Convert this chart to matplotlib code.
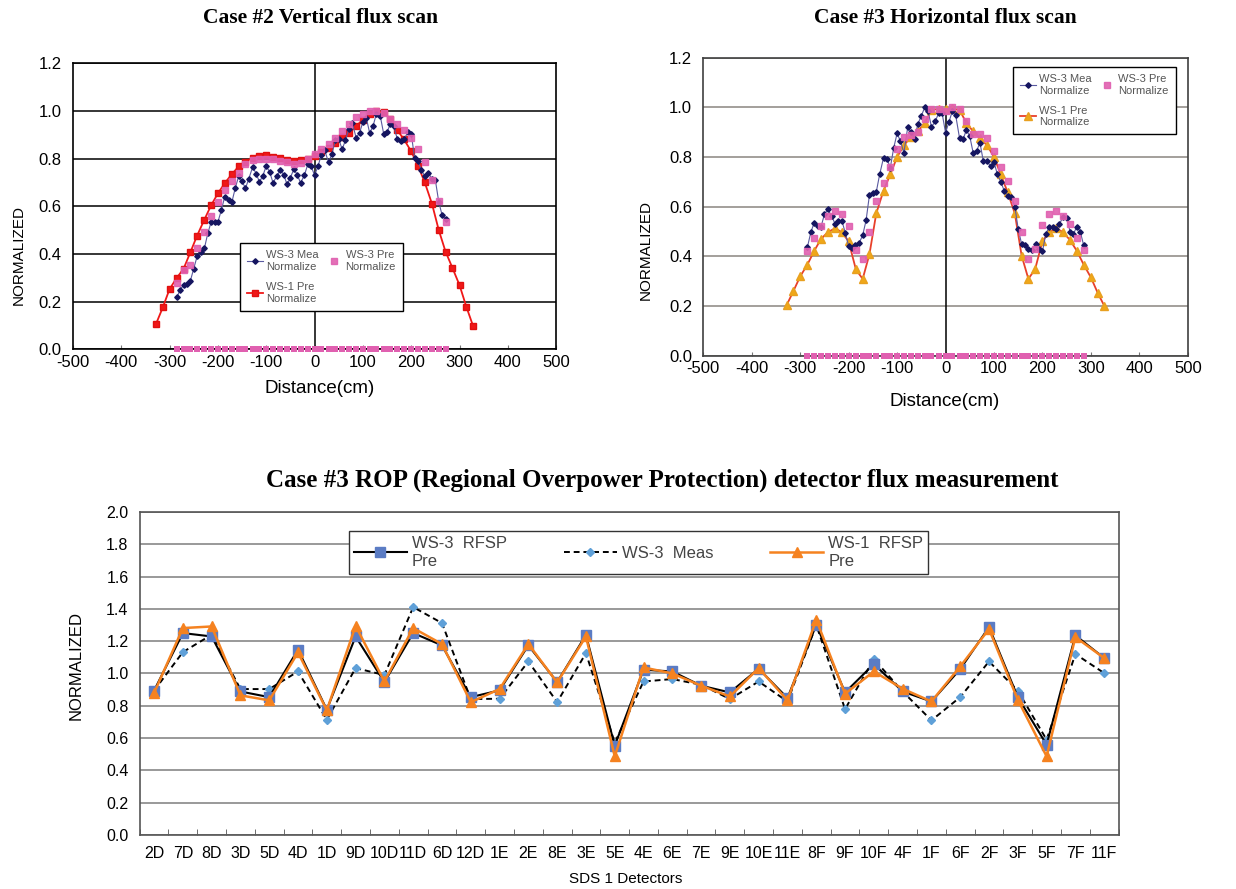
import numpy as np
import matplotlib.pyplot as plt
from matplotlib.ticker import MultipleLocator

plt.rcParams['font.family'] = ['Liberation Sans', 'DejaVu Sans']
plt.rcParams['axes.unicode_minus'] = False

# --- Case #2 vertical flux scan ---
v_ws1_x = [-328, -314, -300, -285, -271, -257, -243, -228, -214, -200, -185, -171, -157, -143, -128, -114,
           -100, -86, -71, -57, -43, -29, -14, 0, 14, 29, 43, 57, 71, 86, 100, 114, 128, 143, 157, 171,
           185, 200, 214, 228, 243, 257, 271, 285, 300, 314, 328]
v_ws1_pre = [0.107, 0.176, 0.253, 0.300, 0.338, 0.407, 0.477, 0.544, 0.604, 0.654, 0.699, 0.735, 0.767,
             0.787, 0.804, 0.811, 0.813, 0.807, 0.804, 0.795, 0.790, 0.792, 0.800, 0.812, 0.829, 0.846,
             0.866, 0.890, 0.905, 0.936, 0.963, 0.985, 1.000, 0.993, 0.965, 0.920, 0.880, 0.830, 0.770,
             0.700, 0.610, 0.500, 0.410, 0.343, 0.269, 0.179, 0.098]

v_pre_x = [-285, -271, -257, -243, -228, -214, -200, -185, -171, -157, -143, -128, -114, -100, -86, -71,
           -57, -43, -29, -14, 0, 14, 29, 43, 57, 71, 86, 100, 114, 128, 143, 157, 171, 185, 200, 214,
           228, 243, 257, 271]
v_ws3_pre = [0.280, 0.332, 0.352, 0.423, 0.491, 0.560, 0.617, 0.668, 0.707, 0.740, 0.776, 0.793, 0.797,
             0.800, 0.797, 0.790, 0.784, 0.779, 0.781, 0.797, 0.820, 0.838, 0.860, 0.888, 0.915, 0.943,
             0.974, 0.985, 1.000, 0.998, 0.990, 0.967, 0.946, 0.920, 0.886, 0.841, 0.786, 0.712, 0.622,
             0.534]
v_pre_zero = [0.0] * len(v_pre_x)

v_mea_x = [-285, -278, -271, -264, -257, -250, -243, -235, -228, -221, -214, -207, -200, -193, -186, -178,
           -171, -164, -157, -150, -143, -136, -128, -121, -114, -107, -100, -93, -86, -78, -71, -64,
           -57, -50, -43, -36, -29, -21, -14, -7, 0, 7, 14, 21, 29, 36, 43, 50, 57, 64, 71, 78, 86, 93,
           100, 107, 114, 121, 128, 136, 143, 150, 157, 164, 171, 178, 186, 193, 200, 207, 214, 221,
           228, 235, 243, 250, 257, 264, 271]
v_ws3_mea = [0.218, 0.251, 0.269, 0.272, 0.287, 0.339, 0.390, 0.407, 0.423, 0.486, 0.534, 0.534, 0.534,
             0.583, 0.639, 0.625, 0.618, 0.677, 0.726, 0.705, 0.675, 0.716, 0.765, 0.737, 0.702, 0.728,
             0.769, 0.744, 0.699, 0.726, 0.753, 0.733, 0.692, 0.720, 0.755, 0.733, 0.698, 0.730, 0.776,
             0.767, 0.730, 0.767, 0.816, 0.834, 0.784, 0.820, 0.876, 0.882, 0.839, 0.876, 0.925, 0.950,
             0.887, 0.907, 0.953, 0.971, 0.907, 0.936, 0.988, 0.978, 0.904, 0.911, 0.946, 0.935, 0.883,
             0.873, 0.883, 0.911, 0.904, 0.802, 0.788, 0.753, 0.726, 0.740, 0.716, 0.709, 0.618, 0.562,
             0.548]

# --- Case #3 horizontal flux scan ---
h_ws1_x = v_ws1_x
h_ws1_pre = [0.203, 0.260, 0.319, 0.367, 0.422, 0.470, 0.497, 0.513, 0.497, 0.460, 0.347, 0.309, 0.409,
             0.573, 0.665, 0.730, 0.800, 0.847, 0.882, 0.903, 0.938, 0.989, 0.995, 0.992, 0.997, 0.989,
             0.938, 0.903, 0.876, 0.847, 0.800, 0.730, 0.659, 0.573, 0.403, 0.309, 0.349, 0.461, 0.497,
             0.513, 0.497, 0.465, 0.422, 0.367, 0.315, 0.253, 0.199]

h_pre_x = [-285, -271, -257, -243, -228, -214, -200, -185, -171, -157, -143, -128, -114, -100, -86, -71,
           -57, -43, -29, -14, 0, 14, 29, 43, 57, 71, 86, 100, 114, 128, 143, 157, 171, 185, 200, 214,
           228, 243, 257, 271, 285]
h_ws3_pre = [0.421, 0.472, 0.524, 0.562, 0.581, 0.569, 0.523, 0.425, 0.388, 0.497, 0.622, 0.696, 0.759,
             0.831, 0.882, 0.890, 0.900, 0.954, 0.995, 0.995, 0.984, 1.000, 0.995, 0.946, 0.891, 0.891,
             0.876, 0.823, 0.759, 0.702, 0.622, 0.499, 0.390, 0.430, 0.526, 0.569, 0.582, 0.562, 0.531,
             0.474, 0.425]
h_pre_zero = [0.0] * len(h_pre_x)

h_mea_x = [-285, -278, -271, -264, -257, -250, -243, -235, -228, -221, -214, -207, -200, -193, -186, -178,
           -171, -164, -157, -150, -143, -136, -128, -121, -114, -107, -100, -93, -86, -78, -71, -64,
           -57, -50, -43, -36, -29, -21, -14, -7, 0, 7, 14, 21, 29, 36, 43, 50, 57, 64, 71, 78, 86, 93,
           100, 107, 114, 121, 128, 136, 143, 150, 157, 164, 171, 178, 186, 193, 200, 207, 214, 221,
           228, 235, 243, 250, 257, 264, 271, 278, 285]
h_ws3_mea = [0.438, 0.497, 0.536, 0.521, 0.519, 0.569, 0.589, 0.562, 0.531, 0.544, 0.544, 0.495, 0.441,
             0.435, 0.445, 0.455, 0.485, 0.545, 0.648, 0.656, 0.659, 0.730, 0.797, 0.794, 0.757, 0.837,
             0.895, 0.864, 0.817, 0.921, 0.900, 0.874, 0.934, 0.966, 1.000, 0.985, 0.921, 0.945, 0.978,
             0.976, 0.898, 0.941, 0.985, 0.968, 0.875, 0.871, 0.909, 0.884, 0.817, 0.824, 0.858, 0.783,
             0.783, 0.763, 0.780, 0.730, 0.700, 0.665, 0.645, 0.640, 0.600, 0.510, 0.450, 0.445, 0.430,
             0.425, 0.450, 0.430, 0.420, 0.490, 0.520, 0.520, 0.510, 0.530, 0.560, 0.555, 0.500, 0.490,
             0.520, 0.500, 0.445]

# --- Case #3 ROP detectors ---
detectors = ['2D', '7D', '8D', '3D', '5D', '4D', '1D', '9D', '10D', '11D', '6D', '12D', '1E', '2E', '8E',
             '3E', '5E', '4E', '6E', '7E', '9E', '10E', '11E', '8F', '9F', '10F', '4F', '1F', '6F', '2F',
             '3F', '5F', '7F', '11F']
rop_ws3_pre = [0.893, 1.250, 1.229, 0.888, 0.853, 1.147, 0.775, 1.229, 0.946, 1.250, 1.174, 0.853, 0.895,
               1.174, 0.946, 1.238, 0.552, 1.023, 1.012, 0.924, 0.882, 1.029, 0.847, 1.302, 0.882, 1.058,
               0.888, 0.826, 1.027, 1.287, 0.853, 0.558, 1.236, 1.095]
rop_ws3_meas = [0.893, 1.132, 1.240, 0.903, 0.903, 1.012, 0.713, 1.033, 0.990, 1.411, 1.312, 0.841, 0.843,
                1.074, 0.822, 1.126, 0.570, 0.950, 0.965, 0.930, 0.841, 0.950, 0.826, 1.300, 0.779, 1.089,
                0.888, 0.709, 0.853, 1.074, 0.893, 0.589, 1.120, 1.002]
rop_ws1_pre = [0.878, 1.281, 1.291, 0.864, 0.833, 1.130, 0.771, 1.295, 0.950, 1.281, 1.182, 0.822, 0.903,
               1.182, 0.944, 1.229, 0.486, 1.037, 1.000, 0.924, 0.857, 1.033, 0.833, 1.333, 0.874, 1.012,
               0.905, 0.826, 1.043, 1.275, 0.837, 0.486, 1.225, 1.095]

fig = plt.figure(figsize=(12.36, 8.89), dpi=100)


def scan_axes(ax, grid_color, spine_color):
    ax.set_xlim(-500, 500)
    ax.set_ylim(0, 1.2)
    ax.xaxis.set_major_locator(MultipleLocator(100))
    ax.yaxis.set_major_locator(MultipleLocator(0.2))
    ax.yaxis.set_major_formatter(plt.FormatStrFormatter('%.1f'))
    ax.grid(axis='y', color=grid_color, lw=1.1)
    ax.set_axisbelow(True)
    ax.axvline(0, color='black', lw=1.1, zorder=1)
    for s in ax.spines.values():
        s.set_color(spine_color)
        s.set_linewidth(1.2)
    ax.tick_params(axis='x', direction='in', length=3, labelsize=12, color='#777777', pad=4)
    ax.tick_params(axis='y', length=0, labelsize=12, pad=8)


def scan_legend(ax, anchor):
    leg = ax.legend(loc='upper left', bbox_to_anchor=anchor, ncol=2, fontsize=8,
                    frameon=True, fancybox=False, edgecolor='black', framealpha=1, handlelength=1.4,
                    handletextpad=0.3, columnspacing=0.7, labelspacing=0.9, borderpad=0.65,
                    borderaxespad=0)
    leg.get_frame().set_linewidth(1.0)
    for t in leg.get_texts():
        t.set_color('#555555')


# график 1
ax1 = fig.add_axes([0.059, 0.607, 0.391, 0.322])
scan_axes(ax1, 'black', 'black')
ax1.plot(v_mea_x, v_ws3_mea, color='#5a5aa0', lw=0.8, marker='D', ms=2.8, mfc='#151560', mec='#151560',
         label='WS-3 Mea\nNormalize', zorder=4)
ax1.plot(v_ws1_x, v_ws1_pre, color='#f01818', lw=1.3, marker='s', ms=5, mec='#e01010',
         label='WS-1 Pre\nNormalize', zorder=3)
ax1.plot(v_pre_x, v_ws3_pre, ls='none', marker='s', ms=5, color='#e060b0', alpha=0.9,
         label='WS-3 Pre\nNormalize', zorder=5)
ax1.plot(v_pre_x, v_pre_zero, ls='none', marker='s', ms=3.8, mew=0, color='#e060b0', clip_on=False,
         zorder=6)
scan_legend(ax1, (0.346, 0.371))
ax1.set_xlabel('Distance(cm)', fontsize=13.5)
ax1.set_ylabel('NORMALIZED', fontsize=11)
ax1.xaxis.set_label_coords(0.511, -0.108)
ax1.yaxis.set_label_coords(-0.097, 0.33)

# график 2
ax2 = fig.add_axes([0.569, 0.600, 0.392, 0.335])
scan_axes(ax2, '#8a8580', '#404040')
ax2.plot(h_mea_x, h_ws3_mea, color='#5a5aa0', lw=0.8, marker='D', ms=2.8, mfc='#151560', mec='#151560',
         label='WS-3 Mea\nNormalize', zorder=4)
ax2.plot(h_ws1_x, h_ws1_pre, color='#e8402a', lw=1.3, marker='^', ms=5.5, mfc='#f0a818', mec='#e8a020',
         label='WS-1 Pre\nNormalize', zorder=3)
ax2.plot(h_pre_x, h_ws3_pre, ls='none', marker='s', ms=5, color='#e060b0', alpha=0.9,
         label='WS-3 Pre\nNormalize', zorder=5)
ax2.plot(h_pre_x, h_pre_zero, ls='none', marker='s', ms=3.8, mew=0, color='#e060b0', clip_on=False,
         zorder=6)
scan_legend(ax2, (0.639, 0.97))
ax2.set_xlabel('Distance(cm)', fontsize=13.5)
ax2.set_ylabel('NORMALIZED', fontsize=11)
ax2.xaxis.set_label_coords(0.499, -0.124)
ax2.yaxis.set_label_coords(-0.104, 0.356)

# график 3
ax3 = fig.add_axes([0.113, 0.061, 0.792, 0.363])
pos = np.arange(len(detectors))
ax3.plot(pos, rop_ws3_pre, color='black', lw=1.5, marker='s', ms=7.5, mfc='#5b7cc4', mec='#5b7cc4',
         label='WS-3  RFSP\nPre', zorder=3)
ax3.plot(pos, rop_ws3_meas, color='black', lw=1.4, ls=(0, (3, 2)), marker='D', ms=4.5, mfc='#5fa0d8',
         mec='#5fa0d8', label='WS-3  Meas', zorder=2)
ax3.plot(pos, rop_ws1_pre, color='#f58220', lw=1.8, marker='^', ms=7.5, mfc='#f58220', mec='#f58220',
         label='WS-1  RFSP\nPre', zorder=4)
ax3.set_xlim(-0.5, len(detectors) - 0.5)
ax3.set_ylim(0, 2.0)
ax3.yaxis.set_major_locator(MultipleLocator(0.2))
ax3.yaxis.set_major_formatter(plt.FormatStrFormatter('%.1f'))
ax3.set_xticks(pos)
ax3.set_xticklabels(detectors)
ax3.set_xticks(np.arange(-0.5, len(detectors), 1.0), minor=True)
ax3.tick_params(axis='x', which='major', length=0, labelsize=11.5, pad=8)
ax3.tick_params(axis='x', which='minor', direction='in', length=4, color='#555555')
ax3.tick_params(axis='y', length=0, labelsize=11.5, pad=8)
ax3.grid(axis='y', color='#888888', lw=1.2)
ax3.set_axisbelow(True)
for s in ax3.spines.values():
    s.set_color('#555555')
    s.set_linewidth(1.2)
leg3 = ax3.legend(loc='upper left', bbox_to_anchor=(0.2135, 0.941), ncol=3, fontsize=12,
                  frameon=True, fancybox=False, edgecolor='#333333', framealpha=1, handlelength=3.2,
                  handletextpad=0.3, columnspacing=3.4, borderpad=0.3, labelspacing=0.2,
                  borderaxespad=0)
leg3.get_frame().set_linewidth(1.0)
for t in leg3.get_texts():
    t.set_color('#444444')
ax3.set_ylabel('NORMALIZED', fontsize=12)
ax3.set_xlabel('SDS 1 Detectors', fontsize=11)
ax3.yaxis.set_label_coords(-0.057, 0.526)
ax3.xaxis.set_label_coords(0.496, -0.116)

title_font = dict(family=['Liberation Serif', 'DejaVu Serif'], weight='bold', ha='center', va='center')
fig.text(0.259, 0.98, 'Case #2 Vertical flux scan', fontsize=15.5, **title_font)
fig.text(0.765, 0.98, 'Case #3 Horizontal flux scan', fontsize=15.5, **title_font)
fig.text(0.536, 0.46, 'Case #3 ROP (Regional Overpower Protection) detector flux measurement',
         fontsize=18, **title_font)

fig.savefig('out.png', dpi=100)
